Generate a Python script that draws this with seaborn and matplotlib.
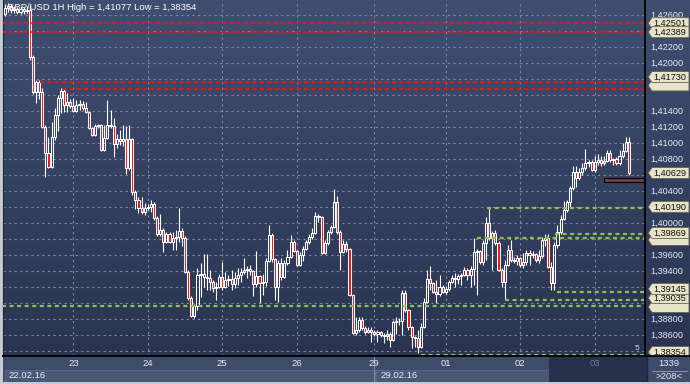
import numpy as np
import matplotlib
matplotlib.use("Agg")
import matplotlib.pyplot as plt
import matplotlib.transforms as mtransforms
from matplotlib.colors import LinearSegmentedColormap
from matplotlib.patches import Rectangle, Polygon
from matplotlib.ticker import MultipleLocator
import seaborn as sns

# GBP/USD hourly candles 22.02.16 - 03.03.16
opens = [1.4262, 1.4269, 1.4272, 1.4267, 1.4268, 1.4264, 1.4268, 1.4265, 1.4267, 1.4208,
         1.4164, 1.4177, 1.4164, 1.4120, 1.4088, 1.4070, 1.4108, 1.4135, 1.4157, 1.4165,
         1.4148, 1.4152, 1.4147, 1.4140, 1.4148, 1.4149, 1.4144, 1.4139, 1.4119, 1.4110,
         1.4122, 1.4123, 1.4092, 1.4107, 1.4123, 1.4122, 1.4099, 1.4105, 1.4103, 1.4105,
         1.4069, 1.4105, 1.4039, 1.4029, 1.4019, 1.4014, 1.4019, 1.4020, 1.4024, 1.4007,
         1.3987, 1.3992, 1.3977, 1.3987, 1.3977, 1.3982, 1.3983, 1.3990, 1.3982, 1.3939,
         1.3907, 1.3884, 1.3897, 1.3935, 1.3937, 1.3933, 1.3932, 1.3927, 1.3919, 1.3920,
         1.3933, 1.3920, 1.3929, 1.3930, 1.3924, 1.3932, 1.3935, 1.3939, 1.3942, 1.3943,
         1.3940, 1.3924, 1.3934, 1.3925, 1.3927, 1.3953, 1.3985, 1.3955, 1.3920, 1.3950,
         1.3933, 1.3950, 1.3958, 1.3977, 1.3965, 1.3948, 1.3960, 1.3968, 1.3977, 1.3983,
         1.3988, 1.4009, 1.4008, 1.3963, 1.3975, 1.3989, 1.3995, 1.4027, 1.3989, 1.3964,
         1.3974, 1.3968, 1.3910, 1.3863, 1.3867, 1.3879, 1.3869, 1.3864, 1.3867, 1.3864,
         1.3862, 1.3864, 1.3860, 1.3859, 1.3862, 1.3854, 1.3877, 1.3878, 1.3878, 1.3913,
         1.3892, 1.3870, 1.3858, 1.3857, 1.3845, 1.3870, 1.3902, 1.3930, 1.3925, 1.3914,
         1.3912, 1.3920, 1.3914, 1.3918, 1.3927, 1.3932, 1.3930, 1.3934, 1.3935, 1.3942,
         1.3935, 1.3943, 1.3964, 1.3965, 1.3952, 1.3975, 1.4000, 1.3982, 1.3988, 1.3975,
         1.3942, 1.3927, 1.3948, 1.3967, 1.3954, 1.3953, 1.3957, 1.3948, 1.3952, 1.3963,
         1.3960, 1.3962, 1.3954, 1.3959, 1.3979, 1.3982, 1.3945, 1.3925, 1.3973, 1.3989,
         1.4005, 1.4017, 1.4027, 1.4044, 1.4064, 1.4057, 1.4064, 1.4069, 1.4075, 1.4077,
         1.4067, 1.4077, 1.4079, 1.4075, 1.4078, 1.4088, 1.4079, 1.4080, 1.4075, 1.4084,
         1.4090, 1.4102]
highs = [1.4274, 1.4275, 1.4274, 1.4272, 1.4270, 1.4270, 1.4270, 1.4272, 1.4273, 1.4210,
         1.4179, 1.4179, 1.4169, 1.4123, 1.4108, 1.4127, 1.4144, 1.4160, 1.4169, 1.4169,
         1.4163, 1.4155, 1.4157, 1.4154, 1.4154, 1.4153, 1.4152, 1.4140, 1.4120, 1.4124,
         1.4124, 1.4124, 1.4123, 1.4154, 1.4142, 1.4132, 1.4112, 1.4117, 1.4123, 1.4122,
         1.4123, 1.4107, 1.4042, 1.4033, 1.4033, 1.4025, 1.4024, 1.4029, 1.4027, 1.4009,
         1.4012, 1.3994, 1.3989, 1.3989, 1.3989, 1.3992, 1.4019, 1.3994, 1.3984, 1.3942,
         1.3909, 1.3899, 1.3944, 1.3950, 1.3962, 1.3962, 1.3942, 1.3929, 1.3927, 1.3937,
         1.3952, 1.3939, 1.3935, 1.3942, 1.3939, 1.3944, 1.3944, 1.3957, 1.3947, 1.3948,
         1.3942, 1.3965, 1.3935, 1.3937, 1.3957, 1.3998, 1.3988, 1.3957, 1.3954, 1.3957,
         1.3954, 1.3967, 1.3985, 1.3979, 1.3967, 1.3964, 1.3972, 1.3979, 1.3987, 1.3994,
         1.4014, 1.4012, 1.4009, 1.3979, 1.3992, 1.3998, 1.4043, 1.4034, 1.3992, 1.3979,
         1.3978, 1.3969, 1.3912, 1.3883, 1.3883, 1.3883, 1.3872, 1.3870, 1.3870, 1.3867,
         1.3867, 1.3865, 1.3863, 1.3867, 1.3864, 1.3879, 1.3883, 1.3882, 1.3917, 1.3917,
         1.3893, 1.3872, 1.3859, 1.3867, 1.3875, 1.3907, 1.3942, 1.3947, 1.3927, 1.3929,
         1.3935, 1.3923, 1.3922, 1.3929, 1.3935, 1.3938, 1.3937, 1.3938, 1.3945, 1.3944,
         1.3947, 1.3982, 1.3968, 1.3967, 1.3979, 1.4008, 1.4020, 1.3990, 1.3992, 1.3978,
         1.3944, 1.3954, 1.3973, 1.3979, 1.3958, 1.3960, 1.3958, 1.3963, 1.3967, 1.3967,
         1.3965, 1.3963, 1.3967, 1.3983, 1.3987, 1.3987, 1.3952, 1.3977, 1.3998, 1.4010,
         1.4028, 1.4029, 1.4047, 1.4072, 1.4072, 1.4069, 1.4075, 1.4093, 1.4079, 1.4079,
         1.4084, 1.4087, 1.4084, 1.4084, 1.4092, 1.4092, 1.4082, 1.4083, 1.4092, 1.4100,
         1.4108, 1.4108]
lows = [1.4259, 1.4264, 1.4263, 1.4263, 1.4262, 1.4262, 1.4262, 1.4263, 1.4204, 1.4162,
        1.4150, 1.4155, 1.4119, 1.4058, 1.4069, 1.4069, 1.4104, 1.4115, 1.4138, 1.4139,
        1.4139, 1.4144, 1.4139, 1.4139, 1.4142, 1.4142, 1.4138, 1.4118, 1.4109, 1.4109,
        1.4119, 1.4090, 1.4090, 1.4105, 1.4119, 1.4083, 1.4094, 1.4098, 1.4097, 1.4062,
        1.4067, 1.4035, 1.4018, 1.4013, 1.4012, 1.4010, 1.4017, 1.4014, 1.4004, 1.3984,
        1.3984, 1.3964, 1.3975, 1.3975, 1.3967, 1.3967, 1.3977, 1.3972, 1.3938, 1.3904,
        1.3883, 1.3882, 1.3892, 1.3908, 1.3920, 1.3917, 1.3917, 1.3914, 1.3904, 1.3919,
        1.3917, 1.3919, 1.3922, 1.3917, 1.3919, 1.3923, 1.3927, 1.3937, 1.3932, 1.3935,
        1.3909, 1.3920, 1.3900, 1.3910, 1.3922, 1.3952, 1.3952, 1.3904, 1.3902, 1.3929,
        1.3932, 1.3948, 1.3957, 1.3964, 1.3947, 1.3947, 1.3953, 1.3967, 1.3974, 1.3980,
        1.3987, 1.4002, 1.3962, 1.3962, 1.3973, 1.3987, 1.3994, 1.3987, 1.3942, 1.3963,
        1.3964, 1.3909, 1.3862, 1.3860, 1.3864, 1.3867, 1.3862, 1.3863, 1.3852, 1.3859,
        1.3852, 1.3858, 1.3850, 1.3854, 1.3845, 1.3853, 1.3862, 1.3873, 1.3860, 1.3889,
        1.3867, 1.3844, 1.3845, 1.3838, 1.3844, 1.3869, 1.3900, 1.3917, 1.3913, 1.3900,
        1.3909, 1.3913, 1.3912, 1.3915, 1.3925, 1.3920, 1.3924, 1.3923, 1.3934, 1.3929,
        1.3920, 1.3923, 1.3910, 1.3949, 1.3948, 1.3954, 1.3979, 1.3942, 1.3973, 1.3940,
        1.3920, 1.3904, 1.3947, 1.3952, 1.3950, 1.3948, 1.3945, 1.3944, 1.3948, 1.3948,
        1.3957, 1.3952, 1.3950, 1.3957, 1.3972, 1.3944, 1.3917, 1.3917, 1.3969, 1.3987,
        1.4004, 1.4014, 1.4019, 1.4042, 1.4045, 1.4054, 1.4060, 1.4067, 1.4070, 1.4065,
        1.4064, 1.4073, 1.4072, 1.4073, 1.4077, 1.4077, 1.4073, 1.4073, 1.4073, 1.4082,
        1.4089, 1.4060]
closes = [1.4269, 1.4272, 1.4267, 1.4268, 1.4264, 1.4268, 1.4265, 1.4267, 1.4208, 1.4164,
          1.4177, 1.4164, 1.4120, 1.4088, 1.4070, 1.4108, 1.4135, 1.4157, 1.4165, 1.4148,
          1.4152, 1.4147, 1.4140, 1.4148, 1.4149, 1.4144, 1.4139, 1.4119, 1.4110, 1.4122,
          1.4123, 1.4092, 1.4107, 1.4123, 1.4122, 1.4099, 1.4105, 1.4103, 1.4105, 1.4069,
          1.4105, 1.4039, 1.4029, 1.4019, 1.4014, 1.4019, 1.4020, 1.4024, 1.4007, 1.3987,
          1.3992, 1.3977, 1.3987, 1.3977, 1.3982, 1.3983, 1.3990, 1.3982, 1.3939, 1.3907,
          1.3884, 1.3897, 1.3935, 1.3937, 1.3933, 1.3932, 1.3927, 1.3919, 1.3920, 1.3933,
          1.3920, 1.3929, 1.3930, 1.3924, 1.3932, 1.3935, 1.3939, 1.3942, 1.3943, 1.3940,
          1.3924, 1.3934, 1.3925, 1.3927, 1.3953, 1.3985, 1.3955, 1.3920, 1.3950, 1.3933,
          1.3950, 1.3958, 1.3977, 1.3965, 1.3948, 1.3960, 1.3968, 1.3977, 1.3983, 1.3988,
          1.4009, 1.4008, 1.3963, 1.3975, 1.3989, 1.3995, 1.4027, 1.3989, 1.3964, 1.3974,
          1.3968, 1.3910, 1.3863, 1.3867, 1.3879, 1.3869, 1.3864, 1.3867, 1.3864, 1.3862,
          1.3864, 1.3860, 1.3859, 1.3862, 1.3854, 1.3877, 1.3878, 1.3878, 1.3913, 1.3892,
          1.3870, 1.3858, 1.3857, 1.3845, 1.3870, 1.3902, 1.3930, 1.3925, 1.3914, 1.3912,
          1.3920, 1.3914, 1.3918, 1.3927, 1.3932, 1.3930, 1.3934, 1.3935, 1.3942, 1.3935,
          1.3943, 1.3964, 1.3965, 1.3952, 1.3975, 1.4000, 1.3982, 1.3988, 1.3975, 1.3942,
          1.3927, 1.3948, 1.3967, 1.3954, 1.3953, 1.3957, 1.3948, 1.3952, 1.3963, 1.3960,
          1.3962, 1.3954, 1.3959, 1.3979, 1.3982, 1.3945, 1.3925, 1.3973, 1.3989, 1.4005,
          1.4017, 1.4027, 1.4044, 1.4064, 1.4057, 1.4064, 1.4069, 1.4075, 1.4077, 1.4067,
          1.4077, 1.4079, 1.4075, 1.4078, 1.4088, 1.4079, 1.4080, 1.4075, 1.4084, 1.4090,
          1.4102, 1.4063]

day_labels = ["23", "24", "25", "26", "29", "01", "02", "03"]
day_start = [22, 46, 70, 94, 119, 142, 166, 190]
week_labels = ["22.02.16", "29.02.16"]

red_levels = [1.42501, 1.42389, 1.41770, 1.41675]
red_from = [-1, -1, 11.3, 18.3]
green_levels = [1.40190, 1.39869, 1.39812, 1.39145, 1.39035, 1.38962, 1.38354]
green_from = [155.2, 177.2, 152, 178, 161, -1, 134]

axis_labels = [1.426, 1.422, 1.420, 1.414, 1.412, 1.410, 1.408,
               1.404, 1.400, 1.396, 1.394, 1.388, 1.386]
tag_texts = ["1,42501", "1,42389", "1,41680", "1,41730", "1,40629", "1,40190",
             "1,39812", "1,39869", "1,38962", "1,39035", "1,39145", "1,38354"]
tag_y = [1.42501, 1.42389, 1.41723, 1.41829, 1.40629, 1.40205,
         1.39791, 1.39879, 1.38954, 1.39066, 1.39179, 1.38391]
# tags that sit almost fully under the next one: only their box edge shows
tag_covered = [False, False, True, False, False, False,
               True, False, True, False, False, False]

marker_from, marker_low, marker_high = 193, 1.40516, 1.40566
pair, tf, hi_val, lo_val = "GBP/USD", "1H", 1.41077, 1.38354
bar_count, visible = "1339", ">208<"


def fmt(v):
    return f"{v:.5f}".replace(".", ",")


sns.set_style("dark")
plt.rcParams["font.family"] = ["Liberation Sans", "DejaVu Sans"]

W, H = 690, 384
fig = plt.figure(figsize=(6.9, 3.84), dpi=100, facecolor="#c4c9d2")


def box(x0, y0, x1, y1):
    return fig.add_axes([x0 / W, 1 - y1 / H, (x1 - x0) / W, (y1 - y0) / H])


ax = box(3, 0, 645, 356)
ax_r = box(645, 0, 690, 356)
ax_b = box(3, 356, 690, 382)

ylo, yhi = 1.38341, 1.42791
xlo, xhi = -0.65, 206.2

# background gradient
bg = LinearSegmentedColormap.from_list("bg", ["#2a3452", "#404e70"])
grad = np.linspace(0, 1, 256).reshape(-1, 1)
ax.imshow(grad, extent=[xlo, xhi, ylo, yhi], origin="lower", aspect="auto", cmap=bg, zorder=0)
ax_r.imshow(grad, extent=[0, 45, ylo, yhi], origin="lower", aspect="auto", cmap=bg, zorder=0)

ax.set_xlim(xlo, xhi)
ax.set_ylim(ylo, yhi)
ax.set_xticks(day_start)
ax.yaxis.set_major_locator(MultipleLocator(0.002))
ax.grid(True, color="#7d8aa8", lw=0.8, ls=(0, (2, 3)), zorder=1)
ax.tick_params(axis="x", direction="in", length=3, color="#dfe4ee", width=0.8, labelbottom=False)
ax.tick_params(axis="y", length=0, labelleft=False)
for s in ax.spines.values():
    s.set_visible(False)
ax.spines["bottom"].set_visible(True)
ax.spines["bottom"].set_color("black")
ax.spines["bottom"].set_linewidth(1.3)
ax.spines["left"].set_visible(True)
ax.spines["left"].set_color("#1b2136")

# candles
o, h, l, c = map(np.array, (opens, highs, lows, closes))
x = np.arange(len(c))
top = np.maximum(o, c)
bot = np.minimum(o, c)
ax.vlines(x, top, h, color="white", lw=0.8, zorder=3)
ax.vlines(x, l, bot, color="white", lw=0.8, zorder=3)
bull = c >= o
ax.bar(x, np.maximum(top - bot, 0.00004), bottom=bot, width=0.68,
       color=np.where(bull, "none", "#ff1010"), edgecolor="white", lw=0.75, zorder=4)

# levels
for p, start in zip(red_levels, red_from):
    ax.hlines(p, start, xhi, colors="#e0161e", lw=1.6, linestyles=(0, (1.8, 1.5)), zorder=5)
for p, start in zip(green_levels, green_from):
    ax.hlines(p, start, xhi, colors="#8cc24a", lw=1.6, linestyles=(0, (1.8, 1.6)), zorder=5)

ax.add_patch(Rectangle((marker_from, marker_low), xhi - marker_from, marker_high - marker_low,
                       fc="#7a3946", ec="black", lw=0.8, zorder=6))

ax.text(0.006, 0.978, f"{pair} {tf} High = {fmt(hi_val)} Low = {fmt(lo_val)}",
        transform=ax.transAxes, color="white", fontsize=6.8, va="center", ha="left", zorder=10)
ax.text((637 - 3) / 642, 1 - 349 / 356, "5", transform=ax.transAxes, color="#d5dbe6",
        fontsize=6, ha="center", va="center", zorder=10)

# right price scale
ax_r.set_xlim(0, 45)
ax_r.set_ylim(ylo, yhi)
ax_r.set_xticks([])
ax_r.set_yticks([])
for s in ax_r.spines.values():
    s.set_visible(False)
ax_r.spines["left"].set_visible(True)
ax_r.spines["left"].set_color("black")
ax_r.spines["left"].set_linewidth(1.3)
for v in axis_labels:
    ax_r.text(5, v, fmt(v), color="#e4e9f2", fontsize=6.6, va="center", ha="left", zorder=2)
hh = 5.5 / 8000
for k, (t, y, cov) in enumerate(zip(tag_texts, tag_y, tag_covered)):
    ax_r.add_patch(Polygon([(3.3, y), (7, y + hh), (44, y + hh), (44, y - hh), (7, y - hh)],
                           closed=True, fc="#e8e4c9", ec="#66634e", lw=0.6, zorder=3 + k * 0.01))
    if not cov:
        ax_r.text(8.3, y, t, fontsize=6.6, color="#111111", va="center", ha="left",
                  zorder=3.005 + k * 0.01, clip_on=True)

# bottom time scale
ax_b.set_xlim(3, 690)
ax_b.set_ylim(382, 356)
ax_b.set_facecolor("#3e4b69")
ax_b.set_xticks([])
ax_b.set_yticks([])
for s in ax_b.spines.values():
    s.set_visible(False)
ax_b.spines["top"].set_visible(True)
ax_b.spines["top"].set_color("black")
ax_b.spines["top"].set_linewidth(1.3)

bt = mtransforms.blended_transform_factory(ax.transData, ax_b.transData)
x29 = day_start[4]
ax_b.add_patch(Rectangle((5, 370), 370, 11.5, fc="#4a5878", ec="#5c6a88", lw=0.6))
ax_b.add_patch(Rectangle((376, 370), 173, 11.5, fc="#4a5878", ec="#5c6a88", lw=0.6))
ax_b.add_patch(Rectangle((549, 357), 98, 25, fc="#27314c", ec="none"))
ax_b.plot([x29, x29], [356, 382], transform=bt, color="#7d8aa8", lw=0.8)
ax_b.plot([647, 647], [356, 382], color="#1e2538", lw=1)
ax_b.plot([652, 687], [370.5, 370.5], color="#9aa3b8", lw=0.6)

for d, pos in zip(day_labels, day_start):
    col = "#6f7a93" if d == day_labels[-1] else "#e8ecf3"
    ax_b.text(pos, 364, d, transform=bt, color=col, fontsize=6.8, ha="center", va="center")
ax_b.text(8, 376, week_labels[0], color="#e8ecf3", fontsize=6.8, ha="left", va="center")
ax_b.text(380, 376, week_labels[1], color="#e8ecf3", fontsize=6.8, ha="left", va="center")
ax_b.text(669, 364, bar_count, color="#e8ecf3", fontsize=6.8, ha="center", va="center")
ax_b.text(669, 376.5, visible, color="#e8ecf3", fontsize=6.8, ha="center", va="center")

fig.savefig("out.png", dpi=100, facecolor=fig.get_facecolor())
